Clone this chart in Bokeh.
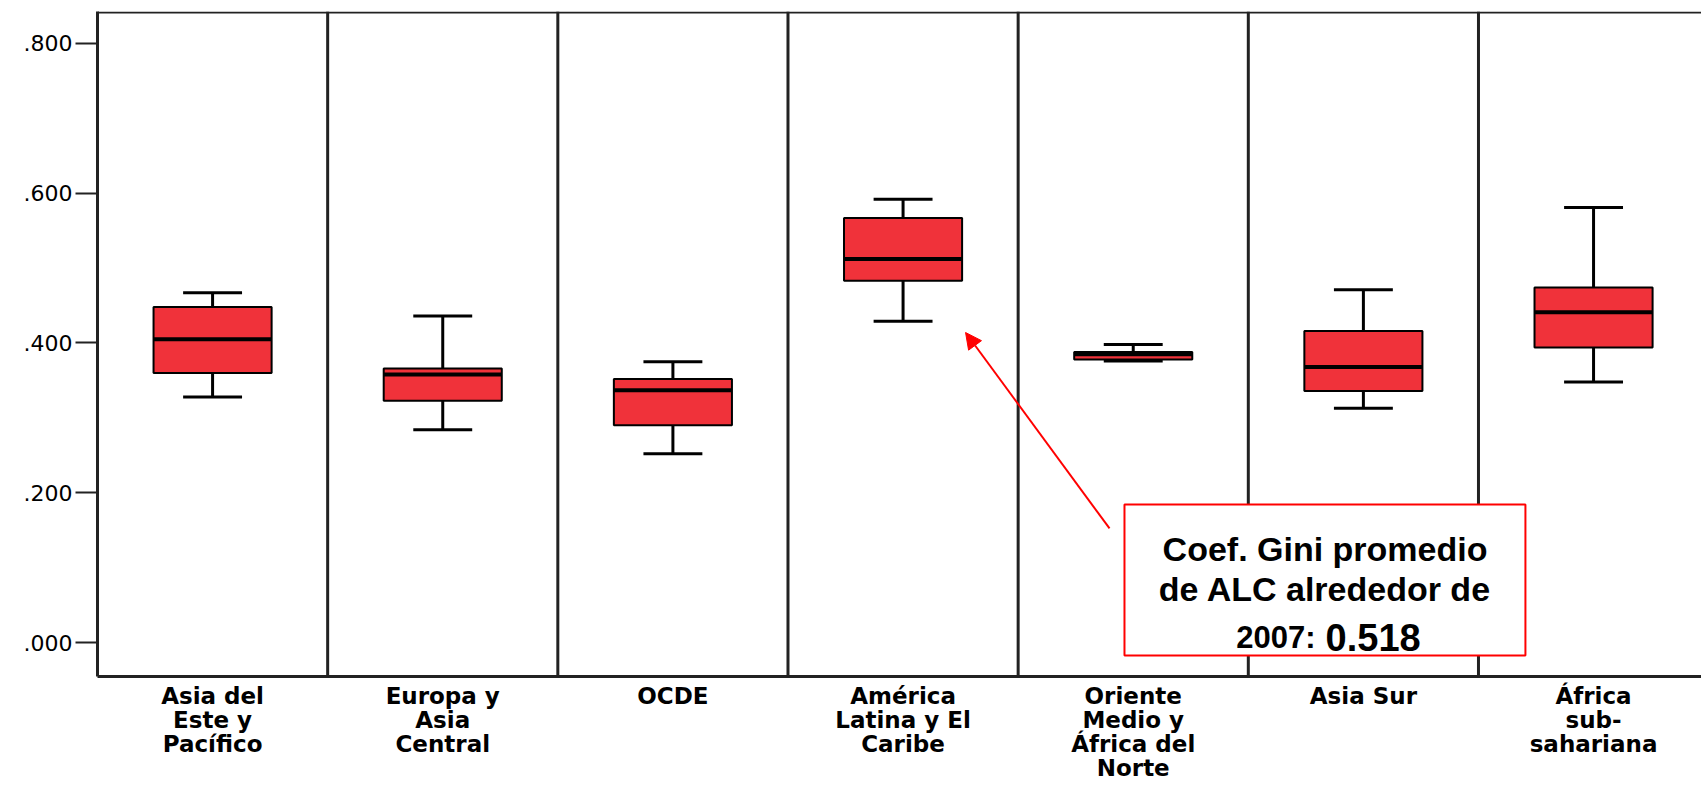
import numpy as np
from bokeh.plotting import figure
from bokeh.models import (ColumnDataSource, Range1d, FixedTicker, Span, BoxAnnotation,
                          Label, Arrow, NormalHead)
from bokeh.embed import file_html
from bokeh.resources import INLINE

# ---- data ----
categories = ["Asia del\nEste y\nPacífico", "Europa y\nAsia\nCentral", "OCDE",
              "América\nLatina y El\nCaribe", "Oriente\nMedio y\nÁfrica del\nNorte",
              "Asia Sur", "África\nsub-\nsahariana"]
whisker_low = [0.328, 0.284, 0.252, 0.429, 0.376, 0.313, 0.348]
q1 = [0.360, 0.323, 0.290, 0.483, 0.378, 0.336, 0.394]
median = [0.405, 0.358, 0.337, 0.512, 0.385, 0.368, 0.441]
q3 = [0.448, 0.366, 0.352, 0.567, 0.388, 0.416, 0.474]
whisker_high = [0.467, 0.436, 0.375, 0.592, 0.398, 0.471, 0.581]
y_ticks = [0.0, 0.2, 0.4, 0.6, 0.8]
y_tick_labels = [".000", ".200", ".400", ".600", ".800"]
note_lines = ["Coef. Gini promedio", "de ALC alrededor de"]
note_year = "2007:"
note_value = "0.518"

xs = np.arange(1, len(categories) + 1)
box_w = 0.513
cap_w = 0.256
Y0, Y1 = -0.0454, 0.8427

src = ColumnDataSource(dict(
    x=xs, lo=whisker_low, q1=q1, med=median, q3=q3, hi=whisker_high,
    bl=xs - box_w / 2, br=xs + box_w / 2, cl=xs - cap_w / 2, cr=xs + cap_w / 2,
))

p = figure(width=1701, height=786, output_backend="svg", toolbar_location=None,
           x_range=Range1d(0.5, 7.469), y_range=Range1d(Y0, Y1),
           min_border_left=97, min_border_right=0, min_border_top=11, min_border_bottom=110)
p.outline_line_color = None
p.xgrid.visible = False
p.ygrid.visible = False
p.background_fill_color = "white"

# separators between categories
for i in range(1, len(categories) + 1):
    p.add_layout(Span(location=i + 0.5, dimension="height", line_color="#222222", line_width=3))
# top border
p.add_layout(Span(location=Y1 - 0.0014, dimension="width", line_color="#222222", line_width=2))

# whiskers
p.segment(x0="x", y0="q3", x1="x", y1="hi", source=src, line_color="black", line_width=3)
p.segment(x0="x", y0="lo", x1="x", y1="q1", source=src, line_color="black", line_width=3)
p.segment(x0="cl", y0="hi", x1="cr", y1="hi", source=src, line_color="black", line_width=3)
p.segment(x0="cl", y0="lo", x1="cr", y1="lo", source=src, line_color="black", line_width=3)
# boxes
p.vbar(x="x", width=box_w, bottom="q1", top="q3", source=src,
       fill_color="#F0323A", line_color="black", line_width=2)
# medians
p.segment(x0="bl", y0="med", x1="br", y1="med", source=src, line_color="black", line_width=4)

# axes
p.yaxis.ticker = FixedTicker(ticks=y_ticks)
p.yaxis.major_label_overrides = {t: l for t, l in zip(y_ticks, y_tick_labels)}
p.yaxis.minor_tick_line_color = None
p.yaxis.major_tick_out = 22
p.yaxis.major_tick_in = 0
p.yaxis.major_tick_line_width = 2
p.yaxis.major_tick_line_color = "#222222"
p.yaxis.axis_line_width = 3
p.yaxis.axis_line_color = "#222222"
p.yaxis.major_label_standoff = 3
p.yaxis.major_label_text_font = "DejaVu Sans"
p.yaxis.major_label_text_font_size = "22px"
p.yaxis.major_label_text_color = "black"

p.xaxis.ticker = FixedTicker(ticks=list(xs))
p.xaxis.major_label_overrides = {int(x): c for x, c in zip(xs, categories)}
p.xaxis.minor_tick_line_color = None
p.xaxis.major_tick_out = 0
p.xaxis.major_tick_in = 0
p.xaxis.axis_line_width = 3
p.xaxis.axis_line_color = "#222222"
p.xaxis.major_label_standoff = 6
p.xaxis.major_label_text_font = "DejaVu Sans"
p.xaxis.major_label_text_font_style = "bold"
p.xaxis.major_label_text_font_size = "23px"
p.xaxis.major_label_text_line_height = 0.93
p.xaxis.major_label_text_color = "black"

# annotation
p.add_layout(Arrow(end=NormalHead(size=16, fill_color="red", line_color="red"),
                   x_start=4.897, y_start=0.1523, x_end=4.2715, y_end=0.414,
                   line_color="red", line_width=2))
p.add_layout(BoxAnnotation(left=4.962, right=6.704, top=0.1843, bottom=-0.0174,
                           fill_color="white", fill_alpha=1.0, line_color="red",
                           line_alpha=1.0, line_width=2))
for txt, yb in zip(note_lines, [0.1255, 0.0708]):
    p.add_layout(Label(x=5.8334, y=yb, text=txt, text_align="center", text_baseline="alphabetic",
                       text_font="Liberation Sans", text_font_style="bold",
                       text_font_size="34px", text_color="black"))
p.add_layout(Label(x=5.7920, y=0.0067, text=note_year, text_align="right", text_baseline="alphabetic",
                   text_font="Liberation Sans", text_font_style="bold",
                   text_font_size="31px", text_color="black"))
p.add_layout(Label(x=5.8356, y=0.0067, text=note_value, text_align="left", text_baseline="alphabetic",
                   text_font="Liberation Sans", text_font_style="bold",
                   text_font_size="38px", text_color="black"))

open("out.html", "w").write(file_html(p, INLINE))
